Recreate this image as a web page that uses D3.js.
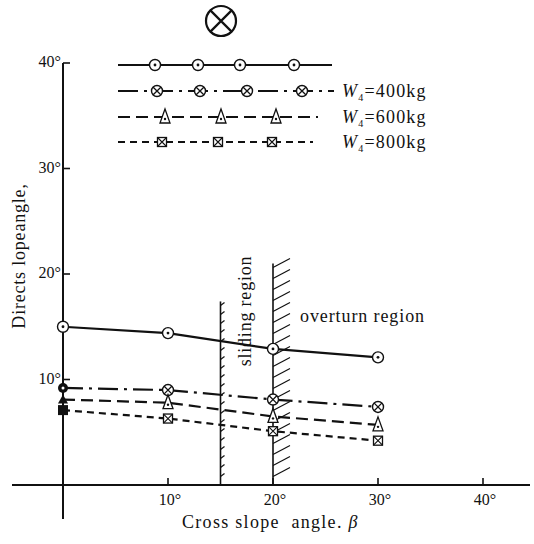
<!DOCTYPE html>
<html>
<head>
<meta charset="utf-8">
<script src="https://cdn.jsdelivr.net/npm/d3@7"></script>
<style>
  body { margin: 0; background: #fff; }
  text { font-family: "Liberation Serif", "DejaVu Serif", serif; fill: #111; }
</style>
</head>
<body>
<div id="chart"></div>
<script>
// cross slope angle beta (deg)
var slopeAngles = [0, 10, 20, 30];
// direct slope angle (deg) for each load case
var seriesDot = [15.0, 14.4, 12.9, 12.1];
var series400 = [9.2, 9.0, 8.1, 7.4];
var series600 = [8.1, 7.8, 6.5, 5.7];
var series800 = [7.1, 6.3, 5.1, 4.2];
var legendLabels = ["", "400kg", "600kg", "800kg"];
var xTicks = [10, 20, 30, 40];
var yTicks = [10, 20, 30, 40];
// limit lines: [beta, top of line]
var slidingLimit = [15, 17.4];
var overturnLimit = [20, 21.0];

var width = 534, height = 544;

var svg = d3.select("#chart").append("svg")
  .attr("width", width)
  .attr("height", height);

var x = d3.scaleLinear().domain([0, 40]).range([63, 483]);
var y = d3.scaleLinear().domain([0, 40]).range([485, 63]);

var series = [
  { values: seriesDot, marker: "dot", dash: null },
  { values: series400, marker: "cross", dash: "20,6,3,6" },
  { values: series600, marker: "tri", dash: "12,6" },
  { values: series800, marker: "box", dash: "7,5" }
];

// draw one marker into a group
function drawMarker(g, type, filled) {
  if (type === "dot") {
    g.append("circle").attr("r", filled ? 6 : 5.5)
      .attr("fill", "#fff").attr("stroke", "#111").attr("stroke-width", 1.4);
    g.append("circle").attr("r", 1.4).attr("fill", "#111");
  } else if (type === "cross") {
    if (filled) {
      g.append("circle").attr("r", 5).attr("fill", "#111");
      g.append("circle").attr("r", 1.5).attr("fill", "#fff");
      return;
    }
    g.append("circle").attr("r", 5.5)
      .attr("fill", "#fff").attr("stroke", "#111").attr("stroke-width", 1.4);
    g.append("path").attr("d", "M-3.8,-3.8L3.8,3.8M3.8,-3.8L-3.8,3.8")
      .attr("stroke", "#111").attr("stroke-width", 1.3);
  } else if (type === "tri") {
    if (filled) {
      g.append("path").attr("d", "M0,-5L5,4L-5,4Z").attr("fill", "#111");
      return;
    }
    g.append("path").attr("d", "M0,-8L5,6L-5,6Z")
      .attr("fill", "#fff").attr("stroke", "#111").attr("stroke-width", 1.3);
    g.append("circle").attr("cy", 2).attr("r", 1.2).attr("fill", "#111");
  } else {
    if (filled) {
      g.append("rect").attr("x", -5).attr("y", -5).attr("width", 10).attr("height", 10).attr("fill", "#111");
      return;
    }
    g.append("rect").attr("x", -4.5).attr("y", -4.5).attr("width", 9).attr("height", 9)
      .attr("fill", "#fff").attr("stroke", "#111").attr("stroke-width", 1.3);
    g.append("path").attr("d", "M-4.5,-4.5L4.5,4.5M4.5,-4.5L-4.5,4.5")
      .attr("stroke", "#111").attr("stroke-width", 1.1);
  }
}

// Axes
svg.append("line")
  .attr("x1", 12).attr("x2", 530)
  .attr("y1", y(0)).attr("y2", y(0))
  .attr("stroke", "#111").attr("stroke-width", 2);
svg.append("line")
  .attr("x1", x(0)).attr("x2", x(0))
  .attr("y1", y(40)).attr("y2", 519)
  .attr("stroke", "#111").attr("stroke-width", 2);

svg.selectAll(".xtick").data(xTicks).enter().append("line")
  .attr("class", "xtick")
  .attr("x1", function(d) { return x(d); }).attr("x2", function(d) { return x(d); })
  .attr("y1", y(0)).attr("y2", y(0) - 7)
  .attr("stroke", "#111").attr("stroke-width", 1.6);
svg.selectAll(".xlabel").data(xTicks).enter().append("text")
  .attr("class", "xlabel")
  .attr("x", function(d) { return x(d) + 2; })
  .attr("y", 505)
  .attr("text-anchor", "middle")
  .style("font-size", "16px")
  .text(function(d) { return d + "°"; });

svg.selectAll(".ytick").data(yTicks).enter().append("line")
  .attr("class", "ytick")
  .attr("x1", x(0)).attr("x2", x(0) + 7)
  .attr("y1", function(d) { return y(d); }).attr("y2", function(d) { return y(d); })
  .attr("stroke", "#111").attr("stroke-width", 1.6);
svg.selectAll(".ylabel").data(yTicks).enter().append("text")
  .attr("class", "ylabel")
  .attr("x", x(0) - 2)
  .attr("y", function(d) { return y(d) + 4; })
  .attr("text-anchor", "end")
  .style("font-size", "16px")
  .text(function(d) { return d + "°"; });

svg.append("text")
  .attr("transform", "translate(25,256)rotate(-90)")
  .attr("text-anchor", "middle")
  .style("font-size", "18px")
  .style("letter-spacing", "0.8px")
  .text("Directs lopeangle,");

var xTitle = svg.append("text")
  .attr("x", 182).attr("y", 528)
  .style("font-size", "18px")
  .style("letter-spacing", "1.3px")
  .attr("xml:space", "preserve");
xTitle.append("tspan").text("Cross slope  angle. ");
xTitle.append("tspan").style("font-style", "italic").text("β");

// Limit lines with hatching
function limitLine(limit, hatchDx, hatchDy, step) {
  var lx = x(limit[0]), top = y(limit[1]), bottom = y(0);
  svg.append("line")
    .attr("x1", lx).attr("x2", lx).attr("y1", top).attr("y2", bottom)
    .attr("stroke", "#111").attr("stroke-width", 1.6);
  svg.selectAll(null).data(d3.range(top, bottom - 4, step)).enter().append("line")
    .attr("x1", lx).attr("x2", lx + hatchDx)
    .attr("y1", function(d) { return d + 4; }).attr("y2", function(d) { return d + 4 + hatchDy; })
    .attr("stroke", "#111").attr("stroke-width", 1.2);
}
limitLine(slidingLimit, 4, -3, 9);
limitLine(overturnLimit, 17, -9, 11);

svg.append("text")
  .attr("transform", "translate(251,311)rotate(-90)")
  .attr("text-anchor", "middle")
  .style("font-size", "18px")
  .style("letter-spacing", "0.8px")
  .text("sliding region");

svg.append("text")
  .attr("x", 300).attr("y", 322)
  .style("font-size", "18px")
  .style("letter-spacing", "0.9px")
  .text("overturn region");

// Data lines
var line = d3.line()
  .x(function(d, i) { return x(slopeAngles[i]); })
  .y(function(d) { return y(d); });

series.forEach(function(s) {
  svg.append("path")
    .datum(s.values)
    .attr("d", line)
    .attr("fill", "none")
    .attr("stroke", "#111")
    .attr("stroke-width", 2.2)
    .attr("stroke-dasharray", s.dash);
});

series.forEach(function(s) {
  svg.selectAll(null).data(s.values).enter().append("g")
    .attr("transform", function(d, i) { return "translate(" + x(slopeAngles[i]) + "," + y(d) + ")"; })
    .each(function(d, i) {
      drawMarker(d3.select(this), s.marker, slopeAngles[i] === 0 && s.marker !== "dot");
    });
});

// Legend
var legendRows = [65, 91, 117, 142];
var legendMarkX = [
  [155, 198, 240, 294],
  [157, 200, 247, 302],
  [165, 221, 276],
  [162, 218, 272]
];
var legendEnd = [332, 334, 318, 313];

series.forEach(function(s, i) {
  var ly = legendRows[i];
  svg.append("line")
    .attr("x1", 118).attr("x2", legendEnd[i])
    .attr("y1", ly).attr("y2", ly)
    .attr("stroke", "#111").attr("stroke-width", 2)
    .attr("stroke-dasharray", s.dash);
  legendMarkX[i].forEach(function(mx) {
    drawMarker(svg.append("g").attr("transform", "translate(" + mx + "," + ly + ")"), s.marker, false);
  });
  if (legendLabels[i]) {
    var t = svg.append("text")
      .attr("x", 342).attr("y", ly + 6)
      .style("font-size", "18px")
      .style("letter-spacing", "1.2px");
    t.append("tspan").style("font-style", "italic").text("W");
    t.append("tspan").attr("dy", 4).style("font-size", "10px").text("4");
    t.append("tspan").attr("dy", -4).text("=" + legendLabels[i]);
  }
});

// Figure symbol at top
var sym = svg.append("g").attr("transform", "translate(221,21)");
sym.append("circle").attr("r", 15).attr("fill", "none").attr("stroke", "#111").attr("stroke-width", 2.2);
sym.append("path").attr("d", "M-10.6,-10.6L10.6,10.6M10.6,-10.6L-10.6,10.6")
  .attr("stroke", "#111").attr("stroke-width", 2.2);
</script>
</body>
</html>
